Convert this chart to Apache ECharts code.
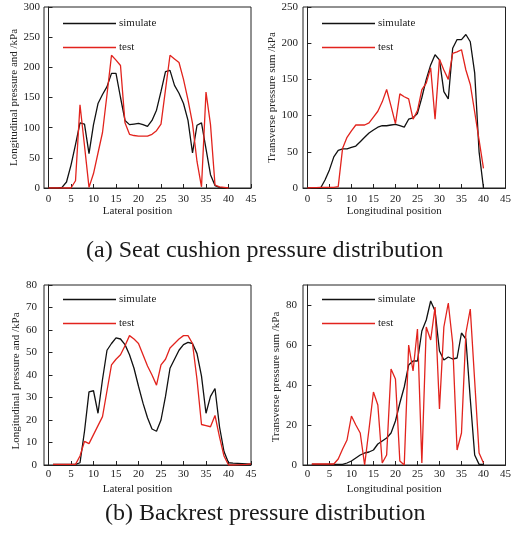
<!DOCTYPE html>
<html><head><meta charset="utf-8">
<script src="https://cdn.jsdelivr.net/npm/echarts@6/dist/echarts.min.js"></script>
<style>html,body{margin:0;padding:0;background:#fff}#c{width:514px;height:539px}</style>
</head><body><div id="c"></div>
<script>
// ---- data ----
const xTicks = [0, 5, 10, 15, 20, 25, 30, 35, 40, 45];
const cushionLatTicks = [0, 50, 100, 150, 200, 250, 300];
const cushionLonTicks = [0, 50, 100, 150, 200, 250];
const backLatTicks = [0, 10, 20, 30, 40, 50, 60, 70, 80];
const backLonTicks = [0, 20, 40, 60, 80];

const pos0to40 = [0,1,2,3,4,5,6,7,8,9,10,11,12,13,14,15,16,17,18,19,20,21,22,23,24,25,26,27,28,29,30,31,32,33,34,35,36,37,38,39,40];
const pos1to45 = [1,2,3,4,5,6,7,8,9,10,11,12,13,14,15,16,17,18,19,20,21,22,23,24,25,26,27,28,29,30,31,32,33,34,35,36,37,38,39,40,41,42,43,44,45];
const pos1to40 = [1,2,3,4,5,6,7,8,9,10,11,12,13,14,15,16,17,18,19,20,21,22,23,24,25,26,27,28,29,30,31,32,33,34,35,36,37,38,39,40];

// (a) seat cushion, lateral
const cushionLatSim  = [0,0,0,1,10,38,72,108,106,57, 105,140,155,168,190,190,150,112,105,106, 107,105,102,112,129,160,193,195,170,157, 140,112,58,104,108,65,22,4,1,0, 0];
const cushionLatTest = [0,0,0,0,0,0,12,138,70,1, 24,58,92,155,220,212,203,108,89,87, 86,86,86,89,95,106,163,220,214,208, 180,146,107,44,2,159,105,5,2,1, 0];
// (a) seat cushion, longitudinal
const cushionLonSim  = [0,0,0,0,11,25,43,52,54,54, 56,58,64,70,76,80,84,86,86,87, 88,86,84,95,97,103,125,150,170,184, 177,133,123,193,205,205,212,202,159,50, 0];
const cushionLonTest = [0,0.5,0.5,1,1,1,1,2,55,70, 79,87,87,87,90,98,106,119,136,113, 89,130,126,123,95,107,136,145,166,95, 178,163,150,186,188,191,163,143,105,66, 27];
// (b) backrest, lateral
const backLatSim  = [0.3,0.3,0.3,0.3,0.3,0.3,1,15,32.5,33, 23,38,51,54,56.5,56,53.5,49,43,35, 27.5,21,16,15,20,30.5,43,47,51,53.5, 54.5,54,49.5,39.5,23,30.5,34,17,6,1, 0.8,0.7,0.6,0.5,0.4];
const backLatTest = [0.3,0.3,0.3,0.3,0.3,0.3,4,10.5,9.5,13.5, 17.5,21.5,33,44.5,47,49,53,57.5,56,54, 49,44,40,35.5,44.5,47,52,54,56,57.5, 57.5,54,38,18,17.5,17,22,12.5,4,0, 0,0.1,0.2,0.3,0.5];
// (b) backrest, longitudinal
const backLonSim  = [0.3,0.3,0.3,0.3,0.3,0.3,0.3,0.3,1,2, 3.5,5,6,6.5,7.5,10.5,12,13.5,16,22, 31,39,50,52,52,67,72.5,82,77,57, 52.5,54,53,53.5,66,63,33,5,0.3,0.3];
const backLonTest = [0.5,0.5,0.5,0.5,0.5,0.5,3,8,12.5,24.5, 20,16,0,18,36.5,30,1,5,48,43, 2,0,60,47,68,1,69,62.5,79,28, 69,81,61,7.5,16,66,78,42,6,1];

const seriesNames = ['simulate', 'test'];
const captionA = '(a) Seat cushion pressure distribution';
const captionB = '(b) Backrest pressure distribution';

// ---- chart ----
const FONT = '"Liberation Serif", "Times New Roman", serif';
const INK = '#222';
const BLACK = '#111';
const RED = '#e2231d';
const zip = (xs, ys) => xs.map((x, i) => [x, ys[i]]);

const grids = [
  {left: 44, top: 7, width: 207, height: 181},
  {left: 303, top: 7, width: 205, height: 181},
  {left: 44, top: 285, width: 207, height: 180},
  {left: 303, top: 285, width: 205, height: 180}
].map(g => Object.assign({show: true, borderColor: INK, borderWidth: 1, backgroundColor: 'transparent'}, g));

function xAx(i, name, margin, gap) {
  return {
    gridIndex: i, type: 'value', min: -1, max: 45,
    name: name, nameLocation: 'middle', nameGap: gap,
    nameTextStyle: {fontFamily: FONT, fontSize: 11, color: INK, padding: [0, 20, 0, 0]},
    axisLine: {show: true, onZero: false, lineStyle: {color: INK, width: 1}},
    axisTick: {show: true, inside: true, length: 4, customValues: xTicks, lineStyle: {color: INK}},
    axisLabel: {customValues: xTicks, fontFamily: FONT, fontSize: 11, color: INK, margin: margin},
    splitLine: {show: false}
  };
}
function yAx(i, name, max, ticks, margin, gap, pad) {
  return {
    gridIndex: i, type: 'value', min: 0, max: max,
    name: name, nameLocation: 'middle', nameGap: gap,
    nameTextStyle: {fontFamily: FONT, fontSize: 11, color: INK, padding: pad},
    axisLine: {show: true, lineStyle: {color: INK, width: 1}},
    axisTick: {show: true, inside: true, length: 4, customValues: ticks, lineStyle: {color: INK}},
    axisLabel: {customValues: ticks, fontFamily: FONT, fontSize: 11, color: INK, margin: margin},
    splitLine: {show: false}
  };
}
function ser(name, i, xs, ys, color) {
  return {
    name: name, type: 'line', xAxisIndex: i, yAxisIndex: i,
    data: zip(xs, ys), symbol: 'none', smooth: false,
    lineStyle: {color: color, width: 1.3}, itemStyle: {color: color},
    emphasis: {disabled: true}
  };
}
function leg(left, top) {
  return {
    data: seriesNames, orient: 'vertical', left: left, top: top,
    icon: 'rect', itemWidth: 53, itemHeight: 1.4, itemGap: 13, padding: 0,
    textStyle: {fontFamily: FONT, fontSize: 11, color: INK, padding: [0, 0, 0, -2]},
    selectedMode: false
  };
}

const option = {
  animation: false,
  backgroundColor: '#fff',
  title: [
    {text: captionA, left: 86, top: 239, padding: 0, textStyle: {fontFamily: FONT, fontSize: 24, fontWeight: 'normal', color: '#1a1a1a'}},
    {text: captionB, left: 105, top: 502, padding: 0, textStyle: {fontFamily: FONT, fontSize: 24, fontWeight: 'normal', color: '#1a1a1a'}}
  ],
  legend: [leg(63, 18), leg(322, 18), leg(63, 294), leg(322, 294)],
  grid: grids,
  xAxis: [
    xAx(0, 'Lateral position', 6, 18),
    xAx(1, 'Longitudinal position', 6, 18),
    xAx(2, 'Lateral position', 4, 19),
    xAx(3, 'Longitudinal position', 4, 19)
  ],
  yAxis: [
    yAx(0, 'Longitudinal pressure and /kPa', 300, cushionLatTicks, 4, 19, [0, 0, 0, 0]),
    yAx(1, 'Transverse pressure sum /kPa', 250, cushionLonTicks, 5, 20, [0, 0, 0, 0]),
    yAx(2, 'Longitudinal pressure and /kPa', 80, backLatTicks, 7, 19, [0, 12, 0, 0]),
    yAx(3, 'Transverse pressure sum /kPa', 90, backLonTicks, 6, 21, [0, 4, 0, 0])
  ],
  series: [
    ser(seriesNames[0], 0, pos0to40, cushionLatSim, BLACK),
    ser(seriesNames[1], 0, pos0to40, cushionLatTest, RED),
    ser(seriesNames[0], 1, pos0to40, cushionLonSim, BLACK),
    ser(seriesNames[1], 1, pos0to40, cushionLonTest, RED),
    ser(seriesNames[0], 2, pos1to45, backLatSim, BLACK),
    ser(seriesNames[1], 2, pos1to45, backLatTest, RED),
    ser(seriesNames[0], 3, pos1to40, backLonSim, BLACK),
    ser(seriesNames[1], 3, pos1to40, backLonTest, RED)
  ]
};
const chart = echarts.init(document.getElementById('c'), null, {renderer: 'canvas'});
chart.setOption(option);
</script>
</body></html>
